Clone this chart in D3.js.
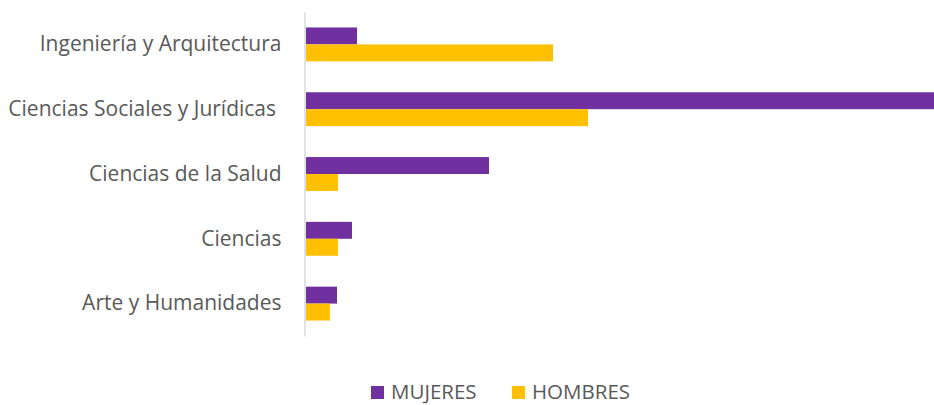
<!DOCTYPE html>
<html>
<head>
  <meta charset='utf-8'>
  <title>Mujeres y hombres por rama</title>
  <script src='https://cdn.jsdelivr.net/npm/d3@7'></script>
  <style type='text/css'>
    body { margin: 0; background: #fff; }
    #plot-container { width: 934px; height: 405px; }
    text { font-family: 'Open Sans', 'Noto Sans', sans-serif; fill: #595959; }
  </style>
</head>
<body>
  <div id='plot-container'></div>
  <script>
    // categories, top to bottom
    const ramas = [
        'Ingeniería y Arquitectura',
        'Ciencias Sociales y Jurídicas',
        'Ciencias de la Salud',
        'Ciencias',
        'Arte y Humanidades'
    ];
    const series = ['MUJERES', 'HOMBRES'];
    const mujeres = [51, 640, 183, 46, 31];
    const hombres = [247, 282, 32, 32, 24];
    const colors = ['#7030A0', '#FFC000'];

    const width = 934, height = 405;
    const margin = { top: 12, right: 0, bottom: 69, left: 306 };
    const svg = d3.select('#plot-container').append('svg')
        .attr('width', width)
        .attr('height', height);

    const y = d3.scaleBand()
        .domain(ramas)
        .range([margin.top, height - margin.bottom])
        .paddingInner(0.477)
        .paddingOuter(0.2385);
    const ySub = d3.scaleBand()
        .domain(series)
        .range([0, y.bandwidth()]);
    const x = d3.scaleLinear()
        .domain([0, 628])
        .range([margin.left, width - margin.right]);

    svg.append('clipPath').attr('id', 'plot-clip')
        .append('rect')
        .attr('x', margin.left).attr('y', 0)
        .attr('width', width - margin.left).attr('height', height);

    const rows = ramas.map((r, i) => ({ rama: r, values: [mujeres[i], hombres[i]] }));
    const groups = svg.append('g')
        .attr('clip-path', 'url(#plot-clip)')
        .selectAll('g')
        .data(rows)
        .enter().append('g')
        .attr('transform', d => `translate(0, ${y(d.rama)})`);
    groups.selectAll('rect')
        .data(d => d.values.map((v, j) => ({ key: series[j], value: v, j: j })))
        .enter().append('rect')
        .attr('x', x(0))
        .attr('y', d => ySub(d.key))
        .attr('width', d => x(d.value) - x(0))
        .attr('height', ySub.bandwidth())
        .style('fill', d => colors[d.j]);

    // vertical category axis, labels only
    const yAxis = svg.append('g')
        .attr('transform', `translate(${margin.left - 1.5}, 0)`)
        .call(d3.axisLeft(y).tickSize(0).tickPadding(23));
    yAxis.select('.domain')
        .attr('stroke', '#d9d9d9')
        .attr('stroke-width', 1.5);
    yAxis.selectAll('text')
        .style('font-size', '21px')
        .style('white-space', 'pre')
        .text(d => d === 'Ciencias Sociales y Jurídicas' ? d + ' ' : d);

    // legend
    const legendX = [371, 512];
    const legend = svg.append('g').selectAll('g')
        .data(series)
        .enter().append('g')
        .attr('transform', (d, i) => `translate(${legendX[i]}, 386)`);
    legend.append('rect')
        .attr('width', 13).attr('height', 13)
        .style('fill', (d, i) => colors[i]);
    legend.append('text')
        .attr('x', 20).attr('y', 13)
        .style('font-size', '20.5px')
        .text(d => d);
  </script>
</body>
</html>
